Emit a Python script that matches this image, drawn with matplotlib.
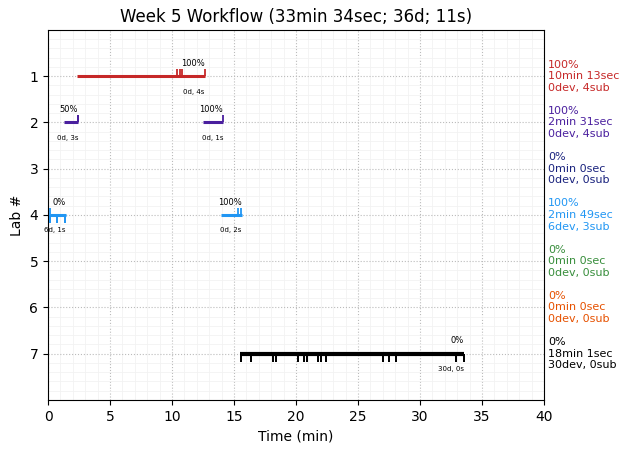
import matplotlib
matplotlib.use("Agg")
import matplotlib.pyplot as plt
from matplotlib.ticker import MultipleLocator

title = "Week 5 Workflow (33min 34sec; 36d; 11s)"
labs = [1, 2, 3, 4, 5, 6, 7]
colors = ["#c62828", "#4a1f9e", "#1a237e", "#2196f3", "#388e3c", "#e65100", "#000000"]

# segments per lab: (start, end) in minutes
segments = {
    1: [(2.3, 12.64)],
    2: [(1.3, 2.42), (12.52, 14.12)],
    4: [(0.15, 1.45), (13.95, 15.62)],
    7: [(15.5, 33.55)],
}
seg_pct = {1: ["100%"], 2: ["50%", "100%"], 4: ["0%", "100%"], 7: ["0%"]}
seg_counts = {1: ["0d, 4s"], 2: ["0d, 3s", "0d, 1s"], 4: ["6d, 1s", "0d, 2s"], 7: ["30d, 0s"]}

# submission times (ticks up) and dev times (ticks down)
subs = {
    1: [10.43, 10.65, 10.83, 12.64],
    2: [2.42, 2.42, 2.42, 14.12],
    4: [0.15, 15.35, 15.6],
}
devs = {
    4: [0.15, 0.15, 0.7, 0.7, 1.4, 1.4],
    7: [15.56, 15.56, 16.37, 16.37, 18.12, 18.12, 18.36, 18.36, 20.14, 20.14,
        20.65, 20.65, 20.86, 20.86, 21.8, 21.8, 22.04, 22.04, 22.39, 22.39,
        27.0, 27.0, 27.52, 27.52, 28.04, 28.04, 32.9, 32.9, 33.55, 33.55],
}

summary_pct = ["100%", "100%", "0%", "100%", "0%", "0%", "0%"]
summary_time = ["10min 13sec", "2min 31sec", "0min 0sec", "2min 49sec", "0min 0sec", "0min 0sec", "18min 1sec"]
summary_dev = ["0dev, 4sub", "0dev, 4sub", "0dev, 0sub", "6dev, 3sub", "0dev, 0sub", "0dev, 0sub", "30dev, 0sub"]

fig = plt.figure(figsize=(6.3, 4.53), dpi=100)
ax = fig.add_axes([0.0762, 0.117, 0.7873, 0.817])

ax.set_xlim(0, 40)
ax.set_ylim(8, 0)
ax.set_yticks(labs)
ax.set_xticks(range(0, 41, 5))
ax.xaxis.set_minor_locator(MultipleLocator(1))
ax.yaxis.set_minor_locator(MultipleLocator(0.2))
ax.tick_params(which="minor", length=0)
ax.grid(which="minor", color="#f2f2f2", linewidth=0.6, linestyle="-")
ax.grid(which="major", color="#bbbbbb", linewidth=0.8, linestyle=":")
ax.set_axisbelow(True)

up = 0.15
down = 0.17
for i, lab in enumerate(labs):
    c = colors[i]
    lw = 3 if lab == 7 else 2.2
    for j, (s, e) in enumerate(segments.get(lab, [])):
        ax.plot([s, e], [lab, lab], color=c, linewidth=lw, solid_capstyle="butt", zorder=3)
        ax.annotate(seg_pct[lab][j], (e, lab), xytext=(0, 6), textcoords="offset points",
                    ha="right", va="bottom", fontsize=6)
        ax.annotate(seg_counts[lab][j], (e, lab), xytext=(0, -9), textcoords="offset points",
                    ha="right", va="top", fontsize=5)
    if lab in subs:
        ax.vlines(subs[lab], lab - up, lab, color=c, linewidth=1.3, zorder=3)
    if lab in devs:
        ax.vlines(devs[lab], lab, lab + down, color=c, linewidth=1.3, zorder=3)
    ax.text(1.008, lab, f"{summary_pct[i]}\n{summary_time[i]}\n{summary_dev[i]}",
            transform=ax.get_yaxis_transform(), color=c, fontsize=8,
            va="center", ha="left", linespacing=1.2)

ax.set_title(title, fontsize=12)
ax.set_xlabel("Time (min)")
ax.set_ylabel("Lab #")

fig.savefig("out.png", dpi=100)
